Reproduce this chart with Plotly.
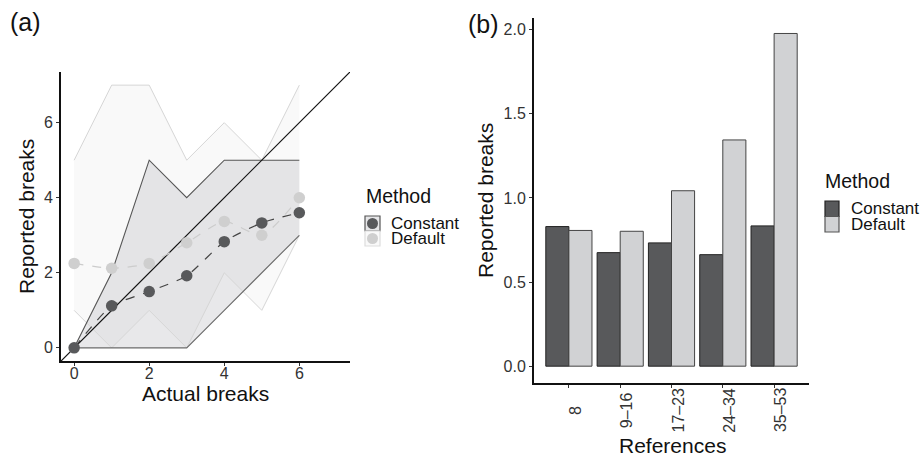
import plotly.graph_objects as go

# ---------------- data: panel (a) ----------------
actual = [0, 1, 2, 3, 4, 5, 6]
const_mean = [0.0, 1.12, 1.5, 1.92, 2.83, 3.33, 3.6]
default_mean = [2.25, 2.12, 2.25, 2.8, 3.37, 3.0, 4.0]
const_lo = [0, 0, 0, 0, 1, 2, 3]
const_hi = [0, 2, 5, 4, 5, 5, 5]
default_lo = [1, 0, 1, 0, 2, 1, 3]
default_hi = [5, 7, 7, 5, 6, 5, 7]

# ---------------- data: panel (b) ----------------
ref_groups = ["8", "9\u201316", "17\u201323", "24\u201334", "35\u201353"]
bar_constant = [0.83, 0.675, 0.733, 0.663, 0.834]
bar_default = [0.807, 0.802, 1.043, 1.345, 1.978]

methods = ["Constant", "Default"]
yticks_a = [0, 2, 4, 6]
xticks_a = [0, 2, 4, 6]
yticks_b = [0.0, 0.5, 1.0, 1.5, 2.0]

FONT = "Liberation Sans, Arial, sans-serif"
DARK = "#58595b"
LIGHT = "#d1d2d4"
TICK_SIZE = 16
TITLE_SIZE = 21

W, H = 922, 458
def px_x(p):
    return p / W
def px_y(p):
    return 1 - p / H

a_range = [-0.35, 7.35]
b_xrange = [-0.68, 4.68]
b_yrange = [-0.1, 2.07]

fig = go.Figure()

# default ribbon (light)
fig.add_trace(go.Scatter(x=actual + actual[::-1], y=default_hi + default_lo[::-1],
                         fill="toself", fillcolor="#f9f9f9", line=dict(width=0),
                         mode="lines", showlegend=False, hoverinfo="skip", xaxis="x", yaxis="y"))
# constant ribbon (dark)
fig.add_trace(go.Scatter(x=actual + actual[::-1], y=const_hi + const_lo[::-1],
                         fill="toself", fillcolor="rgba(200,200,206,0.42)", line=dict(width=0),
                         mode="lines", showlegend=False, hoverinfo="skip", xaxis="x", yaxis="y"))
for edge in (default_hi, default_lo):
    fig.add_trace(go.Scatter(x=actual, y=edge, mode="lines", line=dict(color="#d6d6d6", width=1),
                             showlegend=False, hoverinfo="skip", xaxis="x", yaxis="y"))
fig.add_trace(go.Scatter(x=actual, y=const_hi, mode="lines", line=dict(color="#555555", width=1.1),
                         showlegend=False, hoverinfo="skip", xaxis="x", yaxis="y"))
fig.add_trace(go.Scatter(x=actual, y=const_lo, mode="lines", line=dict(color="#6a6a6a", width=1.1),
                         showlegend=False, hoverinfo="skip", xaxis="x", yaxis="y"))

# identity line
identity = [a_range[0], a_range[1]]
fig.add_trace(go.Scatter(x=identity, y=identity, mode="lines", line=dict(color="#111111", width=1.2),
                         showlegend=False, hoverinfo="skip", xaxis="x", yaxis="y"))

# mean lines + markers
fig.add_trace(go.Scatter(x=actual, y=default_mean, mode="lines",
                         line=dict(color="#cccccc", width=1.2, dash="dash", shape="spline", smoothing=0.6),
                         showlegend=False, hoverinfo="skip", xaxis="x", yaxis="y"))
fig.add_trace(go.Scatter(x=actual, y=const_mean, mode="lines",
                         line=dict(color="#444444", width=1.2, dash="dash", shape="spline", smoothing=0.6),
                         showlegend=False, hoverinfo="skip", xaxis="x", yaxis="y"))
fig.add_trace(go.Scatter(x=actual, y=default_mean, mode="markers", name="Default",
                         marker=dict(color="#cfcfcf", size=11.5, line=dict(width=0)),
                         showlegend=False, xaxis="x", yaxis="y"))
fig.add_trace(go.Scatter(x=actual, y=const_mean, mode="markers", name="Constant",
                         marker=dict(color="#58595b", size=11.5, line=dict(width=0)),
                         showlegend=False, xaxis="x", yaxis="y"))

# panel (b) bars
fig.add_trace(go.Bar(x=ref_groups, y=bar_constant, name="Constant",
                     marker=dict(color=DARK, line=dict(color="#222222", width=1)),
                     showlegend=False, xaxis="x2", yaxis="y2"))
fig.add_trace(go.Bar(x=ref_groups, y=bar_default, name="Default",
                     marker=dict(color=LIGHT, line=dict(color="#444444", width=1)),
                     showlegend=False, xaxis="x2", yaxis="y2"))

axis_common = dict(showgrid=False, zeroline=False, showline=True, linecolor="#111111", linewidth=2,
                   ticks="outside", ticklen=3, tickcolor="#333333", tickwidth=1, automargin=False,
                   tickfont=dict(family=FONT, size=TICK_SIZE, color="#333333"))

fig.update_layout(
    width=W, height=H, margin=dict(l=0, r=0, t=0, b=0),
    paper_bgcolor="white", plot_bgcolor="white",
    font=dict(family=FONT, color="#111111"),
    barmode="group", bargap=0.1, bargroupgap=0.0,
    showlegend=False,
    xaxis=dict(domain=[px_x(61), px_x(350)], range=a_range, tickvals=xticks_a, anchor="y",
               ticklabelstandoff=-6, **axis_common),
    yaxis=dict(domain=[px_y(361), px_y(72)], range=a_range, tickvals=yticks_a, anchor="x", **axis_common),
    xaxis2=dict(domain=[px_x(534), px_x(809)], range=b_xrange, anchor="y2", type="category",
                showticklabels=False, **axis_common),
    yaxis2=dict(domain=[px_y(383), px_y(18)], range=b_yrange, tickvals=yticks_b, tickformat=".1f",
                anchor="x2", **axis_common),
)

def text(x, y, s, size, color="#111111", angle=0, xanchor="center", yanchor="middle", xref="paper", xshift=0):
    fig.add_annotation(x=x, y=y, xref=xref, yref="paper", text=s, showarrow=False, textangle=angle,
                       xanchor=xanchor, yanchor=yanchor, xshift=xshift,
                       font=dict(family=FONT, size=size, color=color))

# axis titles
text(px_x(205), px_y(393), "Actual breaks", TITLE_SIZE)
text(px_x(27), px_y(217), "Reported breaks", TITLE_SIZE, angle=-90)
text(px_x(485), px_y(201), "Reported breaks", TITLE_SIZE, angle=-90)
text(px_x(672), px_y(445), "References", TITLE_SIZE)

# rotated category labels, centred vertically like the reference
for i, g in enumerate(ref_groups):
    text(i, px_y(410), g, TICK_SIZE, color="#333333", angle=-90, xref="x2", xshift=6)

# panel tags
text(px_x(8), px_y(22), "(a)", 25, xanchor="left")
text(px_x(466), px_y(24), "(b)", 25, xanchor="left")

# legends (drawn manually so spacing matches)
def legend_title(x, y):
    text(px_x(x), px_y(y), "Method", 19.5, xanchor="left")

def rect(x0, y0, x1, y1, fill, line):
    fig.add_shape(type="rect", xref="paper", yref="paper", x0=px_x(x0), x1=px_x(x1),
                  y0=px_y(y1), y1=px_y(y0), fillcolor=fill, line=dict(color=line, width=1.2))

def circle(cx, cy, r, fill):
    fig.add_shape(type="circle", xref="paper", yref="paper", x0=px_x(cx - r), x1=px_x(cx + r),
                  y0=px_y(cy + r), y1=px_y(cy - r), fillcolor=fill, line=dict(width=0))

# legend (a)
legend_title(364, 196)
a_keys = [("#e6e6e8", "#555555", "#58595b"), ("#f9f9f9", "#dddddd", "#cfcfcf")]
for k, (m, (fill, border, dot)) in enumerate(zip(methods, a_keys)):
    y0 = 216 + k * 15
    rect(365, y0, 380, y0 + 15, fill, border)
    circle(372.5, y0 + 7.5, 5.5, dot)
    text(px_x(389), px_y(y0 + 7.5), m, 17, xanchor="left")

# legend (b)
legend_title(823, 181)
b_keys = [(DARK, "#222222"), (LIGHT, "#555555")]
for k, (m, (fill, border)) in enumerate(zip(methods, b_keys)):
    y0 = 201 + k * 15.5
    rect(825, y0, 839, y0 + 15.5, fill, border)
    text(px_x(849), px_y(y0 + 7.7), m, 17, xanchor="left")

fig.write_html("out.html", config={"displayModeBar": False},
               post_script="document.body.style.margin='0';document.body.style.overflow='hidden';")
